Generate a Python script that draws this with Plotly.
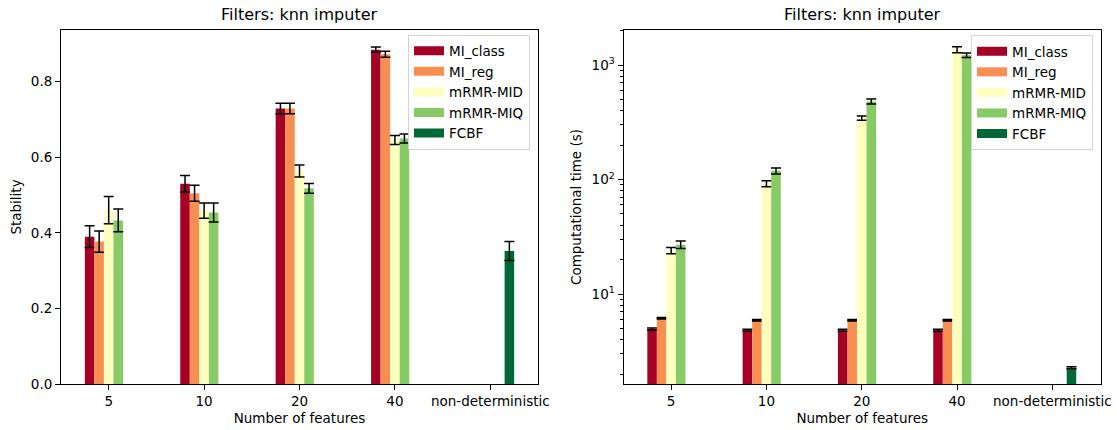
import plotly.graph_objects as go

# ---------------- data ----------------
categories = ["5", "10", "20", "40", "non-deterministic"]
methods = ["MI_class", "MI_reg", "mRMR-MID", "mRMR-MIQ", "FCBF"]
colors = ["#a50026", "#f88e52", "#feffbe", "#86cb66", "#006837"]

# Stability (left panel)
stab_mi_class = [0.390, 0.530, 0.729, 0.885, None]
stab_mi_class_err = [0.029, 0.022, 0.014, 0.007, 0]
stab_mi_reg = [0.377, 0.505, 0.729, 0.873, None]
stab_mi_reg_err = [0.028, 0.021, 0.014, 0.008, 0]
stab_mrmr_mid = [0.460, 0.459, 0.564, 0.646, None]
stab_mrmr_mid_err = [0.036, 0.020, 0.016, 0.012, 0]
stab_mrmr_miq = [0.433, 0.454, 0.518, 0.650, None]
stab_mrmr_miq_err = [0.030, 0.025, 0.013, 0.012, 0]
stab_fcbf = [None, None, None, None, 0.352]
stab_fcbf_err = [0, 0, 0, 0, 0.025]

# Computational time in seconds (right panel)
time_mi_class = [4.95, 4.82, 4.82, 4.82, None]
time_mi_class_err = [0.1, 0.1, 0.1, 0.1, 0]
time_mi_reg = [6.14, 5.9, 5.9, 5.9, None]
time_mi_reg_err = [0.1, 0.1, 0.1, 0.1, 0]
time_mrmr_mid = [24.0, 92.0, 344.0, 1360.0, None]
time_mrmr_mid_err = [1.5, 5.5, 15.0, 82.0, 0]
time_mrmr_miq = [27.0, 119.0, 480.0, 1220.0, None]
time_mrmr_miq_err = [2.0, 7.0, 24.0, 57.0, 0]
time_fcbf = [None, None, None, None, 2.27]
time_fcbf_err = [0, 0, 0, 0, 0.05]

stab_vals = [stab_mi_class, stab_mi_reg, stab_mrmr_mid, stab_mrmr_miq, stab_fcbf]
stab_errs = [stab_mi_class_err, stab_mi_reg_err, stab_mrmr_mid_err, stab_mrmr_miq_err, stab_fcbf_err]
time_vals = [time_mi_class, time_mi_reg, time_mrmr_mid, time_mrmr_miq, time_fcbf]
time_errs = [time_mi_class_err, time_mi_reg_err, time_mrmr_mid_err, time_mrmr_miq_err, time_fcbf_err]

log_major = [10, 100, 1000]
log_major_text = ["10<sup>1</sup>", "10<sup>2</sup>", "10<sup>3</sup>"]
log_minor = [2, 3, 4, 5, 6, 7, 8, 9, 20, 30, 40, 50, 60, 70, 80, 90,
             200, 300, 400, 500, 600, 700, 800, 900, 2000]

# ---------------- figure ----------------
W, H = 1117, 430
FONT = "DejaVu Sans"
FS = 13.5

fig = go.Figure()

def add_panel(vals, errs, xa, ya, legend_name):
    for name, color, v, e in zip(methods, colors, vals, errs):
        fig.add_trace(go.Bar(
            x=categories, y=v, name=name, xaxis=xa, yaxis=ya,
            marker=dict(color=color, line=dict(width=0)),
            error_y=dict(type="data", array=e, color="black",
                         thickness=1.5, width=5, visible=True),
            showlegend=False,
        ))
    for name, color in zip(methods, colors):
        fig.add_trace(go.Scatter(
            x=[None], y=[None], name=name, xaxis=xa, yaxis=ya,
            mode="lines", line=dict(color=color, width=9),
            legend=legend_name, showlegend=True, hoverinfo="skip",
        ))

add_panel(stab_vals, stab_errs, "x", "y", "legend")
add_panel(time_vals, time_errs, "x2", "y2", "legend2")

L1, R1 = 61 / W, 538 / W
L2, R2 = 623.5 / W, 1101 / W
B, T = 1 - 384 / H, 1 - 30 / H

axis_common = dict(
    showline=True, linecolor="black", linewidth=1, mirror=True,
    ticks="outside", ticklen=5, tickcolor="black", tickwidth=1,
    showgrid=False, zeroline=False, automargin=False,
    tickfont=dict(family=FONT, size=FS, color="black"),
)

fig.update_layout(
    width=W, height=H, autosize=False,
    margin=dict(l=0, r=0, t=0, b=0, autoexpand=False),
    paper_bgcolor="white", plot_bgcolor="white",
    font=dict(family=FONT, size=FS, color="black"),
    barmode="group", bargap=0.5, bargroupgap=0,
    xaxis=dict(domain=[L1, R1], anchor="y", type="category",
               range=[-0.5, 4.5],
               title=dict(text="Number of features", standoff=5,
                          font=dict(family=FONT, size=FS, color="black")),
               **axis_common),
    yaxis=dict(domain=[B, T], anchor="x", range=[0, 0.937],
               tickmode="linear", tick0=0, dtick=0.2, tickformat=".1f",
               title=dict(text="Stability", standoff=6,
                          font=dict(family=FONT, size=FS, color="black")),
               **axis_common),
    xaxis2=dict(domain=[L2, R2], anchor="y2", type="category",
                range=[-0.5, 4.51],
                title=dict(text="Number of features", standoff=5,
                           font=dict(family=FONT, size=FS, color="black")),
                **axis_common),
    yaxis2=dict(domain=[B, T], anchor="x2", type="log",
                range=[0.214, 3.306],
                tickmode="array", tickvals=log_major, ticktext=log_major_text,
                minor=dict(tickmode="array", tickvals=log_minor,
                           ticks="outside", ticklen=3, tickcolor="black",
                           showgrid=False),
                title=dict(text="Computational time (s)", standoff=6,
                           font=dict(family=FONT, size=FS, color="black")),
                **axis_common),
    legend=dict(x=408 / W, y=1 - 34.5 / H, xanchor="left", yanchor="top",
                bgcolor="rgba(255,255,255,0.8)", bordercolor="#d4d4d4",
                borderwidth=1, font=dict(family=FONT, size=FS, color="black"),
                tracegroupgap=0),
    legend2=dict(x=971 / W, y=1 - 35 / H, xanchor="left", yanchor="top",
                 bgcolor="rgba(255,255,255,0.8)", bordercolor="#d4d4d4",
                 borderwidth=1, font=dict(family=FONT, size=FS, color="black"),
                 tracegroupgap=0),
)

for xc in [(L1 + R1) / 2, (L2 + R2) / 2]:
    fig.add_annotation(text="Filters: knn imputer", xref="paper", yref="paper",
                       x=xc, y=1 - 14 / H, xanchor="center", yanchor="middle",
                       showarrow=False,
                       font=dict(family=FONT, size=16, color="black"))

fig.write_html(
    "out.html",
    config={"displayModeBar": False},
    post_script="document.body.style.margin='0';document.body.style.overflow='hidden';",
)
